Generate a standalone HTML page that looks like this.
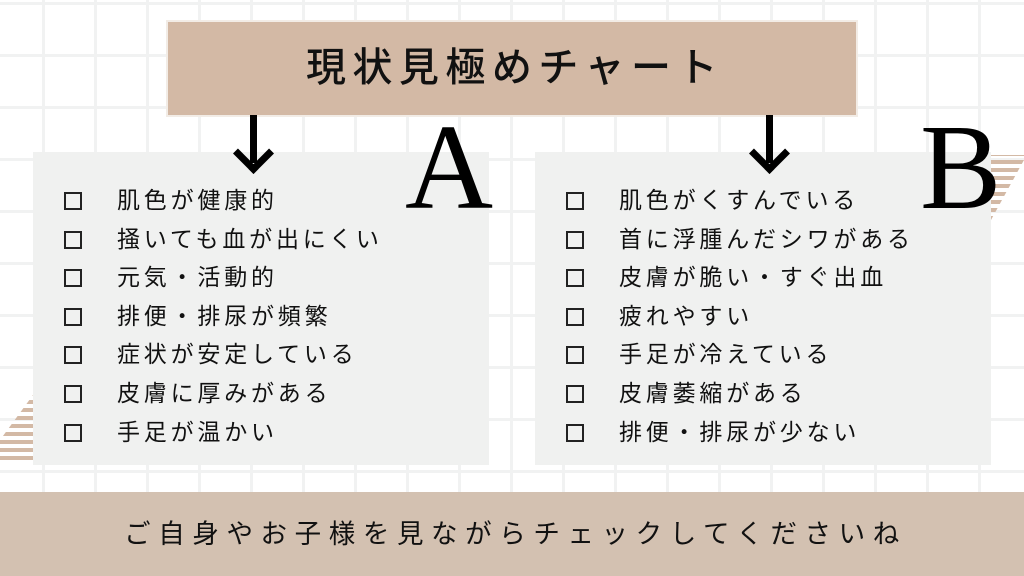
<!DOCTYPE html>
<html><head><meta charset="utf-8"><style>
body{margin:0;width:1024px;height:576px;overflow:hidden;position:relative;background:#fff;
font-family:"Liberation Sans","Noto Sans CJK JP",sans-serif;}
.grid{position:absolute;left:0;top:0;width:1024px;height:576px;
background-image:linear-gradient(to right,#f1f2f2 3px,transparent 3px),linear-gradient(to bottom,#f1f2f2 3px,transparent 3px);
background-size:52px 52px;background-position:42px 2px;}
.title{position:absolute;left:168px;top:22px;width:688px;height:93px;background:#d3b9a5;outline:2px solid #f2ece6;
text-align:center;line-height:93px;font-size:40px;letter-spacing:6.5px;text-indent:6px;color:#111;font-weight:500;}
.panel{position:absolute;top:152px;width:456px;height:313px;background:#f0f1f0;}
.list{position:absolute;top:181px;font-size:23px;line-height:38.6px;color:#111;letter-spacing:3.8px;}
.list div{position:relative;padding-left:55px;white-space:nowrap}
.list div::before{content:"";position:absolute;left:2px;top:11px;width:14px;height:14px;border:2px solid #222;}
.big{position:absolute;font-family:"Liberation Serif",serif;font-size:122px;line-height:1;color:#000;}
.arrow{position:absolute;width:7px;height:48px;background:#000;}
.head{position:absolute;width:22px;height:22px;border-right:7px solid #000;border-bottom:7px solid #000;transform:rotate(45deg);}
.bottom{position:absolute;left:0;top:492px;width:1024px;height:84px;background:#d3c1b1;text-align:center;line-height:84px;font-size:26.5px;letter-spacing:7.6px;text-indent:7px;color:#111;}
</style></head><body>
<div class="grid"></div>
<svg style="position:absolute;left:0;top:0" width="1024" height="576">
<defs><pattern id="st" width="10" height="8" patternUnits="userSpaceOnUse"><rect width="10" height="4" fill="#d3b9a5"/></pattern></defs>
<polygon points="991,155 1024,155 1024,160 991,220" fill="url(#st)"/>
<polygon points="0,462 33,462 33,395 0,440" fill="url(#st)"/>
</svg>
<div class="title">現状見極めチャート</div>
<div class="panel" style="left:33px"></div>
<div class="panel" style="left:535px"></div>
<div class="arrow" style="left:250px;top:115px"></div>
<div class="head" style="left:239px;top:139px"></div>
<div class="arrow" style="left:766px;top:115px"></div>
<div class="head" style="left:755px;top:139px"></div>
<div class="big" style="left:405px;top:107px">A</div>
<div class="big" style="left:920px;top:107px">B</div>
<div class="list" style="left:62px">
<div>肌色が健康的</div>
<div>掻いても血が出にくい</div>
<div>元気・活動的</div>
<div>排便・排尿が頻繁</div>
<div>症状が安定している</div>
<div>皮膚に厚みがある</div>
<div>手足が温かい</div>
</div>
<div class="list" style="left:564px">
<div>肌色がくすんでいる</div>
<div>首に浮腫んだシワがある</div>
<div>皮膚が脆い・すぐ出血</div>
<div>疲れやすい</div>
<div>手足が冷えている</div>
<div>皮膚萎縮がある</div>
<div>排便・排尿が少ない</div>
</div>
<div class="bottom">ご自身やお子様を見ながらチェックしてくださいね</div>
</body></html>
